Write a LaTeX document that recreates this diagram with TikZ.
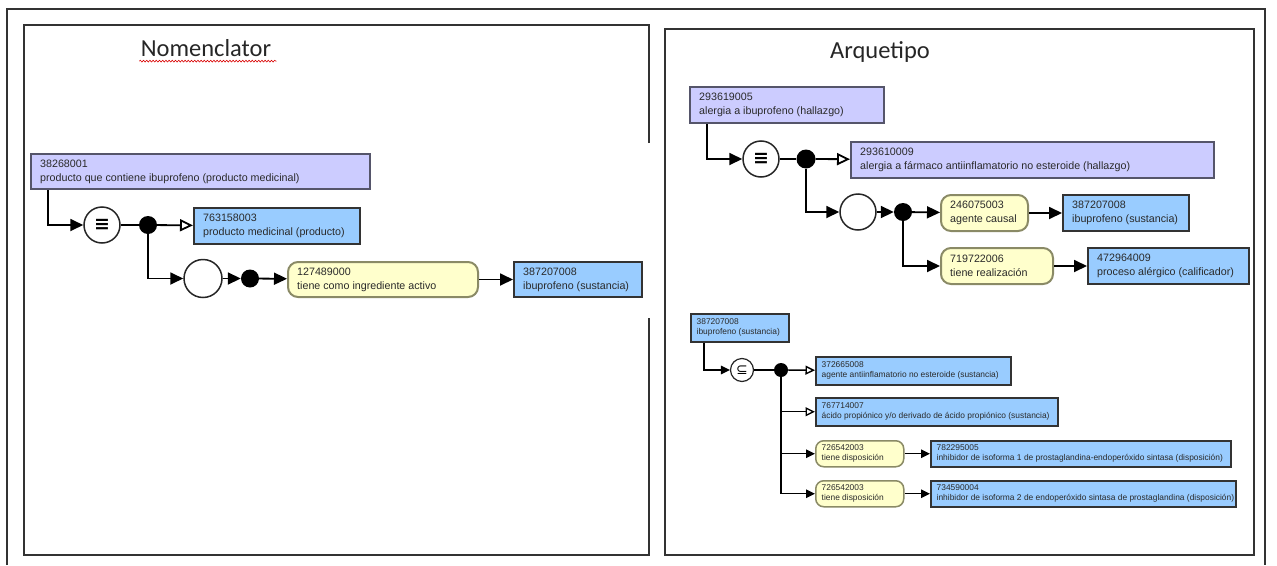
\documentclass[tikz,border=0pt]{standalone}
\usepackage{fontspec}
\setmainfont{Liberation Sans}
\newfontfamily\titlefont{Carlito}
\newfontfamily\symf{DejaVu Sans}
\usetikzlibrary{arrows.meta,decorations.pathmorphing}
\definecolor{pur}{HTML}{CCCCFF}
\definecolor{blu}{HTML}{99CCFF}
\definecolor{yel}{HTML}{FFFFCC}
\definecolor{yelb}{HTML}{8A8A66}
\definecolor{purb}{HTML}{55556A}
\definecolor{txt}{HTML}{2A2A2A}
\newcommand\bx[8]{%
  \node[#2, minimum width={#5-#3}, minimum height={#6-#4}] (#1) at (#3,#4) {};
  \node[#2txt, anchor=west] (#1t) at (#1.west) {#7\\#8};
}
\begin{document}
\begin{tikzpicture}[x=1pt,y=-1pt,
  frame/.style={draw=black!80, line width=1.3pt},
  conn/.style={line width=1.8pt},
  fa/.style={conn,-{Triangle[length=13pt,width=12pt]}},
  oa/.style={conn,-{Triangle[open,length=13pt,width=12pt,fill=white]}},
  sconn/.style={line width=1.4pt},
  sfa/.style={sconn,-{Triangle[length=9pt,width=8.5pt]}},
  soa/.style={sconn,-{Triangle[open,length=9.5pt,width=9pt,fill=white]}},
  box/.style={line width=2pt, anchor=north west, inner sep=0pt},
  pbox/.style={box, draw=purb, fill=pur},
  bbox/.style={box, draw=black!80, fill=blu},
  ybox/.style={box, draw=yelb, fill=yel, rounded corners=10pt},
  btxt/.style={inner xsep=10pt, inner ysep=0pt, align=left, text=txt, font=\fontsize{10.7}{14}\selectfont},
  pboxtxt/.style={btxt}, bboxtxt/.style={btxt}, yboxtxt/.style={btxt},
  sbtxt/.style={inner xsep=6.5pt, inner ysep=0pt, align=left, text=txt, font=\fontsize{8.4}{10}\selectfont},
  sbbox/.style={box, line width=1.5pt, draw=black!80, fill=blu},
  sybox/.style={box, line width=1.5pt, draw=yelb, fill=yel, rounded corners=8pt},
  sbboxtxt/.style={sbtxt}, syboxtxt/.style={sbtxt},
  opc/.style={circle, draw=black!85, line width=1.5pt, fill=white, inner sep=0pt},
  dot/.style={circle, fill=black, inner sep=0pt},
  ttl/.style={font=\titlefont\fontsize{24.5}{24.5}\selectfont, text=black!85}
]
\useasboundingbox (0,0) rectangle (1277,565);
% outer frame
\draw[frame] (7,565) -- (7,9) -- (1265,9) -- (1265,565);
% left panel
\draw[frame] (649,143) -- (649,25) -- (24,25) -- (24,555) -- (649,555) -- (649,318);
% right panel
\draw[frame] (665,29) rectangle (1254,555);

% titles
\node[ttl] (t1) at (206,48) {Nomenclator};
\draw[red!85!black, line width=0.6pt, decorate, decoration={snake, amplitude=0.9pt, segment length=3.2pt}]
  ([xshift=2pt,yshift=-1pt]t1.south west) -- ([xshift=2pt,yshift=-1pt]t1.south east);
\node[ttl] (t2) at (880,52) {Arquetipo};

% ---------- left diagram ----------
\bx{n1}{pbox}{30}{153}{369}{188}{38268001}{producto que contiene ibuprofeno (producto medicinal)}
\bx{n2}{bbox}{193}{207}{359}{243}{763158003}{producto medicinal (producto)}
\bx{y1}{ybox}{287}{261}{477}{296}{127489000}{tiene como ingrediente activo}
\bx{b1}{bbox}{513}{261}{641}{296}{387207008}{ibuprofeno (sustancia)}
\node[opc, minimum size=36pt] (e1) at (102,225) {\symf\bfseries\fontsize{19}{19}\selectfont ≡};
\node[dot, minimum size=18pt] (d1) at (148,225) {};
\node[opc, minimum size=38pt] (c1) at (203,278.5) {};
\node[dot, minimum size=18pt] (d2) at (250,278.5) {};

\draw[fa] ([xshift=18pt]n1.south west) |- (e1);
\draw[conn] (e1) -- (d1);
\draw[oa] (d1) -- (n2);
\draw[fa] (d1) |- (c1);
\draw[fa] (c1) -- (d2);
\draw[fa] (d2) -- (y1);
\draw[fa] (y1) -- (b1);

% ---------- right top diagram ----------
\bx{a}{pbox}{689}{86}{883}{122}{293619005}{alergia a ibuprofeno (hallazgo)}
\bx{b}{pbox}{850}{141}{1213}{177}{293610009}{alergia a fármaco antiinflamatorio no esteroide (hallazgo)}
\bx{y2}{ybox}{940}{194}{1027}{230}{246075003}{agente causal}
\bx{b2}{bbox}{1062}{194}{1188}{230}{387207008}{ibuprofeno (sustancia)}
\bx{y3}{ybox}{940}{247}{1052}{283}{719722006}{tiene realización}
\bx{b3}{bbox}{1087}{247}{1248}{283}{472964009}{proceso alérgico (calificador)}
\node[opc, minimum size=36pt] (e2) at (761,159) {\symf\bfseries\fontsize{19}{19}\selectfont ≡};
\node[dot, minimum size=19pt] (d3) at (806,159) {};
\node[opc, minimum size=36pt] (c2) at (858,212) {};
\node[dot, minimum size=18pt] (d4) at (903,212) {};

\draw[fa] ([xshift=18pt]a.south west) |- (e2);
\draw[conn] (e2) -- (d3);
\draw[oa] (d3) -- (b);
\draw[fa] (d3) |- (c2);
\draw[fa] (c2) -- (d4);
\draw[fa] (d4) -- (y2);
\draw[fa] (y2) -- (b2);
\draw[fa] (d4) |- (y3);
\draw[fa] (y3) -- (b3);

% ---------- right bottom diagram ----------
\bx{c}{sbbox}{690}{313}{788}{341}{387207008}{ibuprofeno (sustancia)}
\bx{dd}{sbbox}{815}{356}{1010}{384}{372665008}{agente antiinflamatorio no esteroide (sustancia)}
\bx{ee}{sbbox}{815}{397}{1057}{425}{767714007}{ácido propiónico y/o derivado de ácido propiónico (sustancia)}
\bx{f}{sybox}{815}{440}{903}{466}{726542003}{tiene disposición}
\bx{g}{sbbox}{930}{440}{1230}{466}{782295005}{inhibidor de isoforma 1 de prostaglandina-endoperóxido sintasa (disposición)}
\bx{h}{sybox}{815}{480}{903}{506}{726542003}{tiene disposición}
\bx{i}{sbbox}{930}{480}{1235}{506}{734590004}{inhibidor de isoforma 2 de endoperóxido sintasa de prostaglandina (disposición)}
\node[opc, minimum size=23pt, line width=1.2pt] (s) at (742,370) {\symf\fontsize{14}{14}\selectfont ⊆};
\node[dot, minimum size=14pt] (d5) at (781,370) {};

\draw[sfa] ([xshift=14pt]c.south west) |- (s);
\draw[sconn] (s) -- (d5);
\draw[soa] (d5) -- (dd);
\draw[soa] (d5) |- (ee);
\draw[sfa] (d5) |- (f);
\draw[sfa] (f) -- (g);
\draw[sfa] (d5) |- (h);
\draw[sfa] (h) -- (i);
\end{tikzpicture}
\end{document}
